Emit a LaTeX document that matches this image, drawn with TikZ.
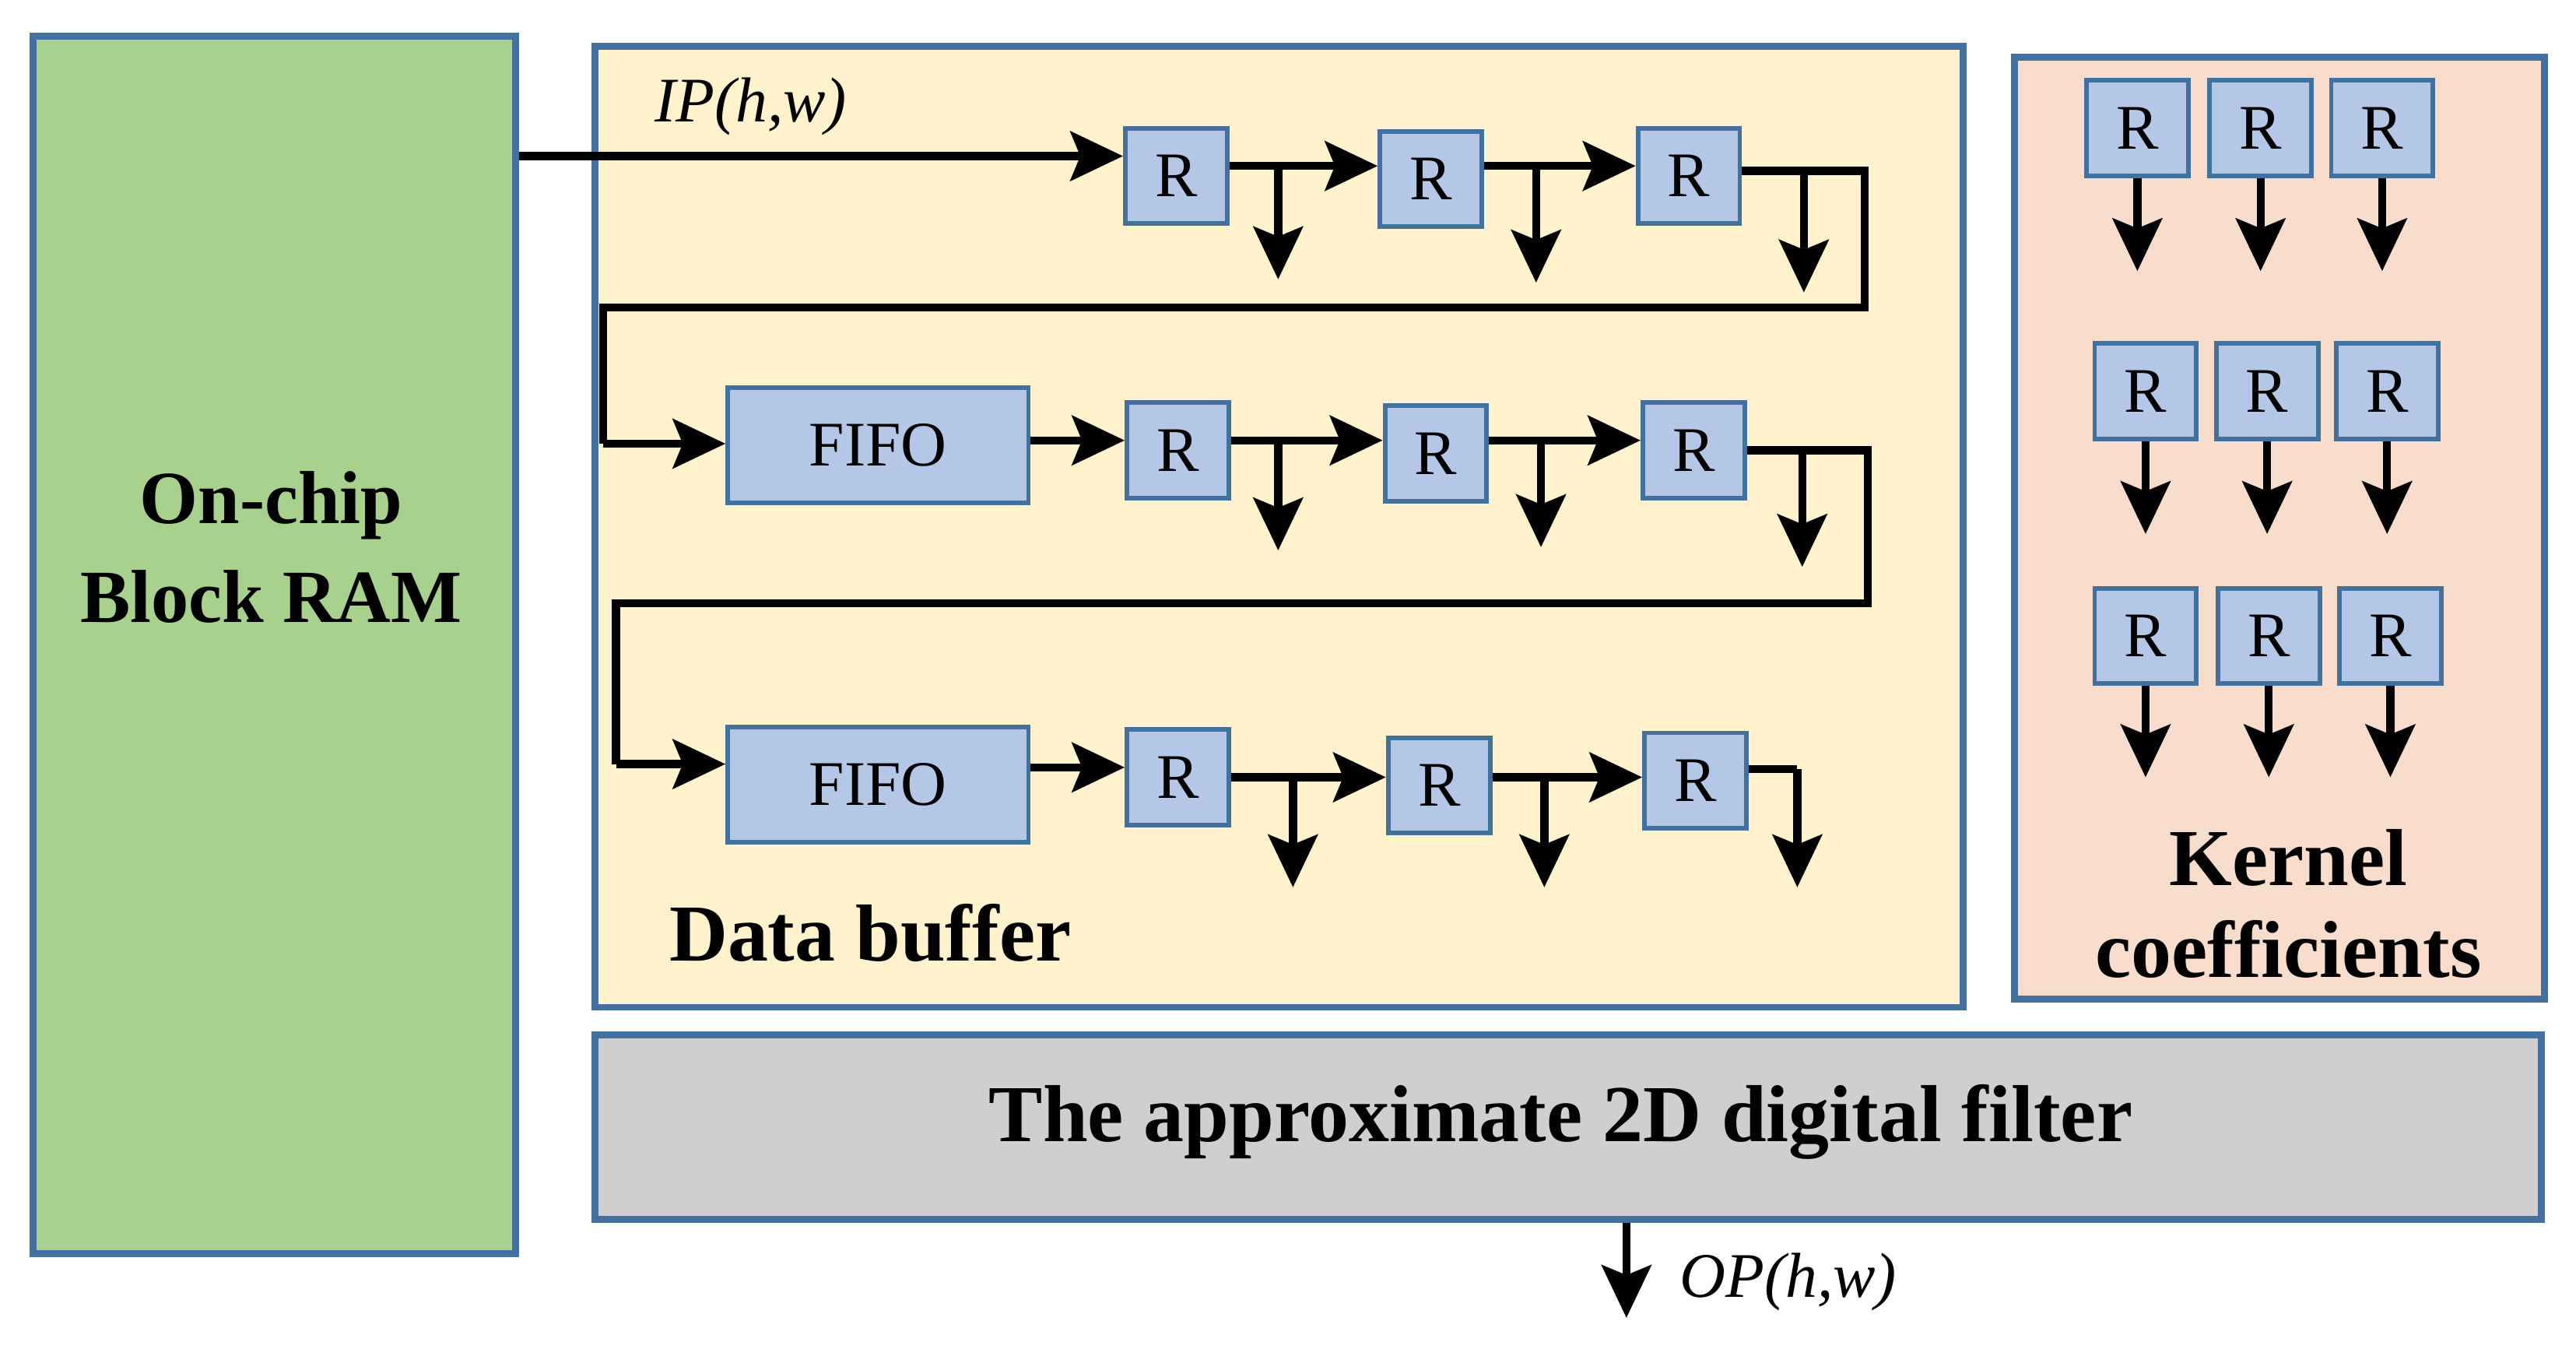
\documentclass[tikz,border=0pt]{standalone}
\usepackage{fontspec}
\setmainfont{Liberation Serif}
\usetikzlibrary{arrows.meta}
\definecolor{bord}{HTML}{41719C}
\definecolor{gfill}{HTML}{A9D18E}
\definecolor{yfill}{HTML}{FFF2CC}
\definecolor{pfill}{HTML}{F8DDCC}
\definecolor{rfill}{HTML}{B4C7E7}
\definecolor{ffill}{HTML}{D0CECE}
\begin{document}
\begin{tikzpicture}[x=0.1mm,y=-0.1mm,
  panel/.style={draw=bord,line width=1.2pt},
  reg/.style={draw=bord,fill=rfill,line width=0.8pt,minimum width=6.2mm,minimum height=5.8mm,inner sep=0pt,font=\fontsize{11}{12}\selectfont},
  fifo/.style={draw=bord,fill=rfill,line width=0.8pt,minimum width=18.3mm,minimum height=7mm,inner sep=0pt,font=\fontsize{11}{12}\selectfont},
  wire/.style={line width=1.4pt},
  arr/.style={line width=1.4pt,-{Stealth[length=3.2mm,width=3mm,inset=0.6mm]}},
  lbl/.style={font=\bfseries\fontsize{14}{16}\selectfont,align=center}]
\useasboundingbox (0,0) rectangle (1568,825);
% panels
\node[panel,fill=gfill,minimum width=29.4mm,minimum height=74.1mm,inner sep=0pt] (ram) at (167,392.5) {};
\node[lbl,font=\bfseries\fontsize{13}{17}\selectfont] at (165,333) {On-chip\\Block RAM};
\node[panel,fill=yfill,minimum width=83.3mm,minimum height=58.5mm,inner sep=0pt] (buf) at (778.5,320.5) {};
\node[panel,fill=pfill,minimum width=32.3mm,minimum height=57.3mm,inner sep=0pt] (ker) at (1387.5,321.5) {};
\node[panel,fill=ffill,minimum width=118.5mm,minimum height=11.2mm,inner sep=0pt] (filt) at (954.5,686) {};
\node[lbl] at (950,683) {The approximate 2D digital filter};
\node[lbl,anchor=west] at (395,568) {Data buffer};
\node[lbl] at (1393,550) {Kernel\\coefficients};
\node[font=\itshape\fontsize{11}{12}\selectfont,anchor=west] at (386,65) {IP(h,w)};
% row 1
\node[reg] (a1) at (716,107) {R};
\node[reg] (a2) at (871,109) {R};
\node[reg] (a3) at (1028,107) {R};
% row 2
\node[fifo] (f2) at (534.5,271) {FIFO};
\node[reg] (b1) at (717,274) {R};
\node[reg] (b2) at (874,276) {R};
\node[reg] (b3) at (1031,274) {R};
% row 3
\node[fifo] (f3) at (534.5,477.5) {FIFO};
\node[reg] (c1) at (717,473) {R};
\node[reg] (c2) at (876,478) {R};
\node[reg] (c3) at (1032,475) {R};
% input
\draw[arr] (ram.east |- 0,95) -- (a1.west |- 0,95);
% row 1 wiring
\draw[arr] (a1.east |- 0,101) -- (a2.west |- 0,101);
\draw[arr] (a2.east |- 0,101) -- (a3.west |- 0,101);
\coordinate (d1) at (778,170); \coordinate (d2) at (935,172); \coordinate (d3) at (1098,178);
\draw[arr] (778,101) -- (d1);
\draw[arr] (935,101) -- (d2);
\draw[wire] (a3.east |- 0,104) -- (1135,104) -- (1135,187) -- (367,187) -- (367,270);
\draw[arr] (1098,104) -- (d3);
\draw[arr] (367,270) -- (f2.west |- 0,270);
% row 2
\draw[arr] (f2.east |- 0,268) -- (b1.west |- 0,268);
\draw[arr] (b1.east |- 0,268) -- (b2.west |- 0,268);
\draw[arr] (b2.east |- 0,268) -- (b3.west |- 0,268);
\coordinate (e1) at (778,335); \coordinate (e2) at (938,333); \coordinate (e3) at (1097,345);
\draw[arr] (778,268) -- (e1);
\draw[arr] (938,268) -- (e2);
\draw[wire] (b3.east |- 0,274) -- (1137,274) -- (1137,367) -- (375,367) -- (375,465);
\draw[arr] (1097,274) -- (e3);
\draw[arr] (375,465) -- (f3.west |- 0,465);
% row 3
\draw[arr] (f3.east |- 0,467) -- (c1.west |- 0,467);
\draw[arr] (c1.east |- 0,473) -- (c2.west |- 0,473);
\draw[arr] (c2.east |- 0,473) -- (c3.west |- 0,473);
\coordinate (g1) at (787,540); \coordinate (g2) at (940,540); \coordinate (g3) at (1094,540);
\draw[arr] (787,473) -- (g1);
\draw[arr] (940,473) -- (g2);
\draw[wire] (c3.east |- 0,468) -- (1094,468);
\draw[arr] (1094,468) -- (g3);
% kernel
\foreach \n/\x/\y/\e in {k1/1301/78/165,k2/1376/78/165,k3/1450/78/165,
  k4/1306/238/325,k5/1380/238/325,k6/1453/238/325,
  k7/1306/387/473,k8/1381/387/473,k9/1455/387/473}{
  \node[reg] (\n) at (\x,\y) {R};
  \coordinate (\n o) at (\x,\e);
  \draw[arr] (\n.south) -- (\n o);
}
% output
\coordinate (op) at (990,802);
\draw[arr] (filt.south -| op) -- (op);
\node[font=\itshape\fontsize{11}{12}\selectfont,anchor=west] at (1010,780) {OP(h,w)};
\end{tikzpicture}
\end{document}
